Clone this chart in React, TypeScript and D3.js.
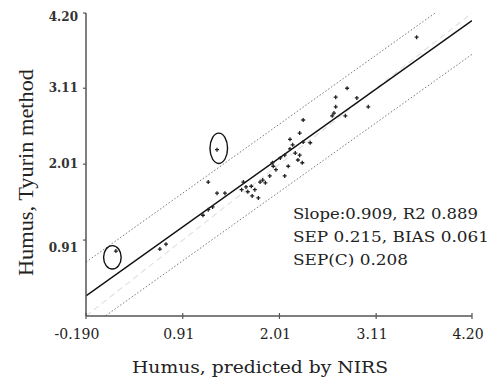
import React from "react";
import * as d3 from "d3";

const W = 493;
const H = 378;

const tickValues = [-0.19, 0.91, 2.01, 3.11, 4.2];
const xTickLabels = ["-0.190", "0.91", "2.01", "3.11", "4.20"];
const yTickLabels = ["", "0.91", "2.01", "3.11", "4.20"];

// measured (predicted by NIRS) vs reference (Tyurin method)
const predicted = [
  0.15, 0.65, 0.72, 1.14, 1.2, 1.25, 1.2, 1.3, 1.3, 1.39,
  1.58, 1.65, 1.7, 1.63, 1.69, 1.73, 1.77, 1.6, 1.79, 1.82,
  1.85, 1.9, 1.93, 1.94, 1.97, 2.07, 2.11, 2.13, 2.13, 2.19,
  2.24, 2.22, 2.27, 2.24, 2.28, 2.28, 2.36, 2.16, 2.07, 2.02,
  2.61, 2.63, 2.76, 2.65, 2.65, 2.78, 2.89, 3.02, 3.57,
];
const tyurin = [
  0.75, 0.78, 0.85, 1.27, 1.35, 1.39, 1.75, 2.22, 1.59, 1.59,
  1.64, 1.61, 1.55, 1.68, 1.69, 1.64, 1.52, 1.75, 1.75, 1.78,
  1.74, 1.84, 2.03, 1.98, 1.93, 1.84, 1.98, 2.37, 2.23, 2.17,
  2.14, 2.07, 2.03, 2.46, 2.65, 2.33, 2.32, 2.29, 2.14, 2.1,
  2.71, 2.75, 2.71, 2.84, 2.98, 3.11, 2.97, 2.84, 3.85,
];

const slope = 0.909;
const intercept = 0.273;
const bandOffset = 0.49;

const statLines = ["Slope:0.909, R2 0.889", "SEP 0.215, BIAS 0.061", "SEP(C) 0.208"];

// circled outliers: center x, center y, radius x, radius y (data units)
const outlierCx = [1.32, 0.11];
const outlierCy = [2.24, 0.66];
const outlierRx = [0.1, 0.1];
const outlierRy = [0.22, 0.17];

export default function App() {
  const x = d3.scaleLinear().domain([-0.19, 4.2]).range([86, 472]);
  const y = d3.scaleLinear().domain([-0.19, 4.2]).range([316, 13]);

  const xs = [-0.19, 4.2];
  const line = d3
    .line<number>()
    .x((v) => x(v))
    .y((v) => y(slope * v + intercept));
  const upper = d3
    .line<number>()
    .x((v) => x(v))
    .y((v) => y(slope * v + intercept + bandOffset));
  const lower = d3
    .line<number>()
    .x((v) => x(v))
    .y((v) => y(slope * v + intercept - bandOffset));
  const ident = d3
    .line<number>()
    .x((v) => x(v))
    .y((v) => y(v));

  const font = "'DejaVu Serif', serif";

  return (
    <svg
      width={W}
      height={H}
      style={{ position: "absolute", left: 0, top: 0, background: "#fff" }}
    >
      <defs>
        <clipPath id="plot">
          <rect x={86} y={13} width={386} height={303} />
        </clipPath>
      </defs>
      <g clipPath="url(#plot)">
        <path d={ident(xs) || ""} fill="none" stroke="#e2e2e2" strokeWidth={1.2} strokeDasharray="6,4" />
        <path d={upper(xs) || ""} fill="none" stroke="#777" strokeWidth={1} strokeDasharray="1.5,2" />
        <path d={lower(xs) || ""} fill="none" stroke="#777" strokeWidth={1} strokeDasharray="1.5,2" />
        <path d={line(xs) || ""} fill="none" stroke="#111" strokeWidth={1.5} />
      </g>
      {predicted.map((p, i) => {
        const cx = x(p);
        const cy = y(tyurin[i]);
        return (
          <path
            key={i}
            d={`M${cx - 2},${cy}H${cx + 2}M${cx},${cy - 2}V${cy + 2}`}
            stroke="#222"
            strokeWidth={1.3}
          />
        );
      })}
      {outlierCx.map((c, i) => (
        <ellipse
          key={i}
          cx={x(c)}
          cy={y(outlierCy[i])}
          rx={x(c + outlierRx[i]) - x(c)}
          ry={y(outlierCy[i]) - y(outlierCy[i] + outlierRy[i])}
          fill="none"
          stroke="#111"
          strokeWidth={1.4}
        />
      ))}
      {/* axes */}
      <line x1={86} y1={13} x2={86} y2={316} stroke="#555" strokeWidth={1.5} />
      <line x1={86} y1={316} x2={472} y2={316} stroke="#555" strokeWidth={1.5} />
      {tickValues.map((t, i) => (
        <g key={"x" + i}>
          <line x1={x(t)} x2={x(t)} y1={313} y2={319} stroke="#555" strokeWidth={1.2} />
          <text
            x={x(t) - (i === 0 ? 9 : 4)}
            y={339}
            textAnchor="middle"
            fontFamily={font}
            fontSize={14}
            fill="#222"
          >
            {xTickLabels[i]}
          </text>
        </g>
      ))}
      {tickValues.map((t, i) =>
        i === 0 ? null : (
          <g key={"y" + i}>
            <line x1={83} x2={86} y1={y(t)} y2={y(t)} stroke="#555" strokeWidth={1.2} />
            <text
              x={78}
              y={y(t) + (i === 4 ? 8 : i === 1 ? 12 : 4)}
              textAnchor="end"
              fontFamily={font}
              fontSize={12}
              fontWeight="bold"
              fill="#333"
            >
              {yTickLabels[i]}
            </text>
          </g>
        )
      )}
      {statLines.map((s, i) => (
        <text
          key={s}
          x={293}
          y={219 + i * 23}
          fontFamily={font}
          fontSize={14}
          fill="#222"
          textLength={[185, 196, 115][i]}
          lengthAdjust="spacingAndGlyphs"
        >
          {s}
        </text>
      ))}
      <text
        x={132}
        y={373}
        fontFamily={font}
        fontSize={16}
        fill="#222"
        textLength={256}
        lengthAdjust="spacingAndGlyphs"
      >
        Humus, predicted by NIRS
      </text>
      <text
        transform="translate(33,276) rotate(-90)"
        fontFamily="'Liberation Serif', serif"
        fontSize={21}
        fill="#222"
        textLength={207}
        lengthAdjust="spacingAndGlyphs"
      >
        Humus,  Tyurin method
      </text>
    </svg>
  );
}
